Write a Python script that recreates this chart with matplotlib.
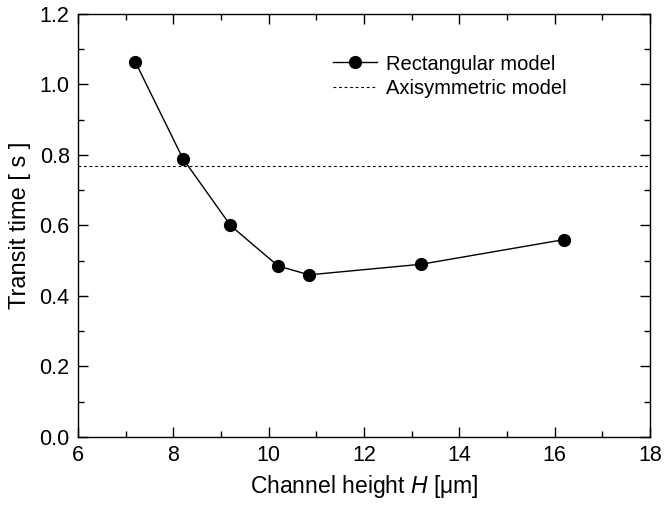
import matplotlib
matplotlib.use("Agg")
import matplotlib.pyplot as plt
from matplotlib.ticker import MultipleLocator

plt.rcParams['font.family'] = ['Liberation Sans', 'DejaVu Sans']
plt.rcParams['mathtext.fontset'] = 'custom'
plt.rcParams['mathtext.it'] = 'Liberation Sans:italic'
plt.rcParams['mathtext.rm'] = 'Liberation Sans'

channel_height = [7.2, 8.2, 9.2, 10.2, 10.85, 13.2, 16.2]
transit_rect = [1.065, 0.79, 0.60, 0.485, 0.46, 0.49, 0.56]
transit_axisym = 0.768

fig = plt.figure(figsize=(6.7, 5.09), dpi=100)
ax = fig.add_axes([0.1164, 0.1415, 0.8536, 0.831])

ax.plot(channel_height, transit_rect, color='black', lw=1.0, marker='o', ms=8.5,
        label='Rectangular model')
ax.axhline(transit_axisym, color='black', lw=0.8, ls=(0, (2.5, 2.5)),
           label='Axisymmetric model')

ax.set_xlim(6, 18)
ax.set_ylim(0, 1.2)
ax.xaxis.set_major_locator(MultipleLocator(2))
ax.xaxis.set_minor_locator(MultipleLocator(1))
ax.yaxis.set_major_locator(MultipleLocator(0.2))
ax.yaxis.set_minor_locator(MultipleLocator(0.1))
ax.yaxis.set_major_formatter(plt.FuncFormatter(lambda v, p: f"{v:.1f}"))
ax.tick_params(which='both', direction='in', top=True, right=True, labelsize=15.5, width=1.0)
ax.tick_params(which='major', length=7, pad=6)
ax.tick_params(which='minor', length=4)
for s in ax.spines.values():
    s.set_linewidth(1.0)

ax.set_xlabel(r'Channel height $\mathit{H}$ [μm]', fontsize=16.5, labelpad=5)
ax.set_ylabel('Transit time [ s ]', fontsize=17, labelpad=6)

leg = ax.legend(loc='upper left', bbox_to_anchor=(0.414, 0.947), frameon=False, fontsize=14.5,
                handlelength=2.2, handletextpad=0.45, labelspacing=0.25)

fig.savefig('out.png', dpi=100)
